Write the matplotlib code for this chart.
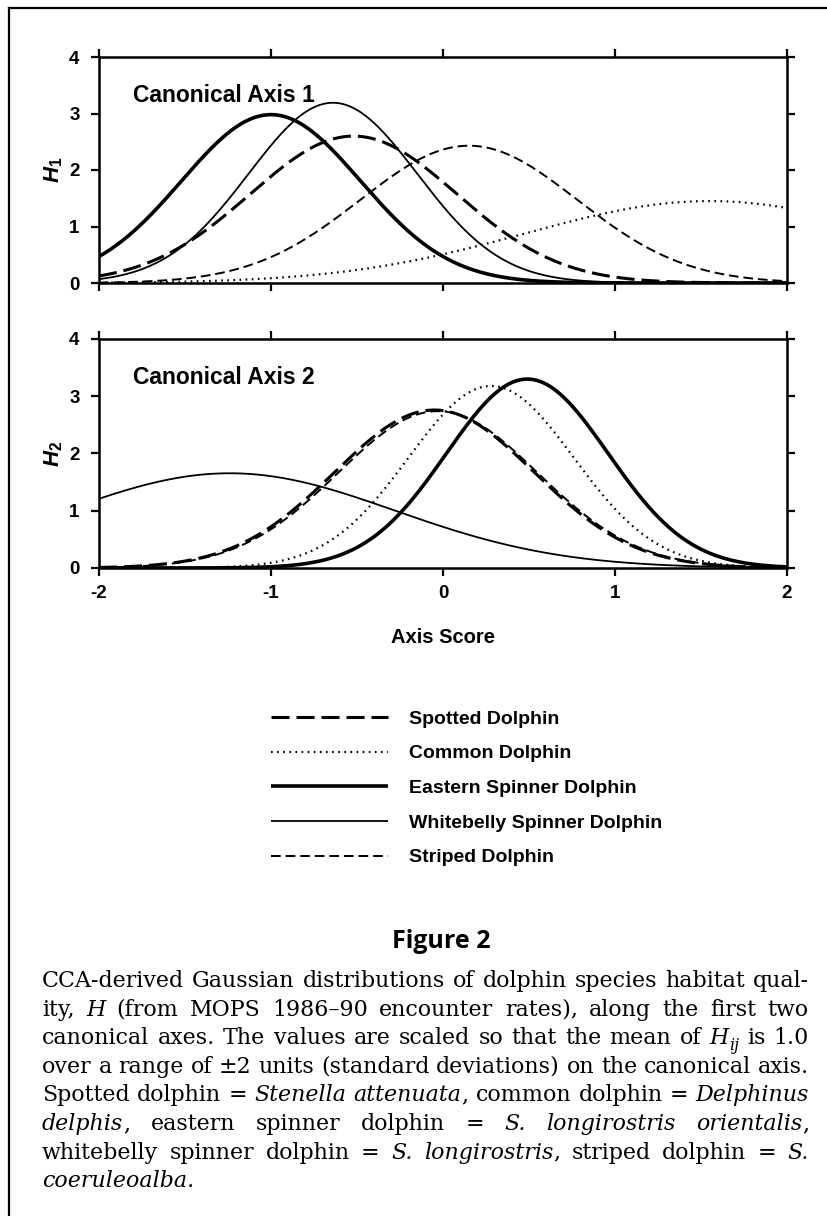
import re
import numpy as np
import matplotlib
matplotlib.use('Agg')
import matplotlib.pyplot as plt
from matplotlib.lines import Line2D

# ============================================================
# Data (Gaussian response parameters)
# ============================================================

species = ['Spotted Dolphin', 'Common Dolphin', 'Eastern Spinner Dolphin',
           'Whitebelly Spinner Dolphin', 'Striped Dolphin']

# Canonical axis 1: peak height, optimum (mean), tolerance (sd)
axis1_peak = [2.60, 1.45, 2.98, 3.19, 2.43]
axis1_mean = [-0.52, 1.55, -1.00, -0.64, 0.15]
axis1_sd = [0.60, 1.07, 0.52, 0.49, 0.63]

# Canonical axis 2
axis2_peak = [2.76, 3.18, 3.30, 1.655, 2.74]
axis2_mean = [-0.05, 0.28, 0.49, -1.24, -0.03]
axis2_sd = [0.58, 0.48, 0.47, 0.96, 0.58]

x_ticks = [-2, -1, 0, 1, 2]
y_ticks = [0, 1, 2, 3, 4]

caption_title = 'Figure 2'
# *...* = italic, _{..} = italic subscript
caption_lines = [
    'CCA-derived Gaussian distributions of dolphin species habitat qual-',
    'ity, *H* (from MOPS 1986\u201390 encounter rates), along the first two',
    'canonical axes. The values are scaled so that the mean of *H*_{ij} is 1.0',
    'over a range of \u00b12 units (standard deviations) on the canonical axis.',
    'Spotted dolphin = *Stenella attenuata*, common dolphin = *Delphinus*',
    '*delphis*, eastern spinner dolphin = *S. longirostris orientalis*,',
    'whitebelly spinner dolphin = *S. longirostris*, striped dolphin = *S.*',
    '*coeruleoalba.*',
]

# ============================================================
# Style
# ============================================================

STYLES = [
    {'lw': 2.2, 'dashes': (13, 5)},     # spotted: thick long dash
    {'lw': 1.6, 'dashes': (1.2, 3.2)},  # common: dotted
    {'lw': 2.6, 'dashes': None},        # eastern spinner: thick solid
    {'lw': 1.3, 'dashes': None},        # whitebelly: thin solid
    {'lw': 1.4, 'dashes': (7, 3.5)},    # striped: short dash
]

W, H = 828, 1216
SANS = 'Liberation Sans'

plt.rcParams.update({
    'font.family': SANS,
    'font.weight': 'bold',
    'axes.unicode_minus': False,
    'lines.scale_dashes': False,
    'mathtext.fontset': 'custom',
    'mathtext.rm': 'Liberation Sans:bold',
    'mathtext.it': 'Liberation Sans:italic:bold',
    'mathtext.bf': 'Liberation Sans:bold',
})


def gaussian_curve(xs, peak, mean, sd):
    return peak * np.exp(-(xs - mean) ** 2 / (2 * sd ** 2))


def style_axes(ax, show_xlabels):
    ax.set_xlim(-2, 2)
    ax.set_ylim(0, 4)
    ax.set_xticks(x_ticks)
    ax.set_yticks(y_ticks)
    for sp in ax.spines.values():
        sp.set_linewidth(1.8)
    ax.tick_params(direction='out', length=6, width=1.6, top=True, right=True,
                   labelsize=13.5, labelbottom=show_xlabels)
    ax.tick_params(axis='y', pad=8)
    ax.tick_params(axis='x', pad=6)


def draw_panel(ax, peaks, means, sds, title, ylabel):
    xs = np.linspace(-2, 2, 600)
    for i, name in enumerate(species):
        st = STYLES[i]
        line, = ax.plot(xs, gaussian_curve(xs, peaks[i], means[i], sds[i]),
                        color='black', lw=st['lw'], label=name,
                        solid_capstyle='butt', dash_capstyle='butt')
        if st['dashes']:
            line.set_dashes(st['dashes'])
    ax.text(0.049, 0.83, title, transform=ax.transAxes, fontsize=16.5,
            fontweight='bold', va='center', ha='left')
    ax.set_ylabel(ylabel, fontsize=16, labelpad=3)


def parse_caption(lines):
    italic = False
    parsed = []
    for line in lines:
        words = []
        for word in line.split(' '):
            parts = []
            for tok in re.split(r'(\*|_\{[^}]*\})', word):
                if tok == '*':
                    italic = not italic
                    continue
                if not tok:
                    continue
                if tok.startswith('_{'):
                    parts.append((tok[2:-1], 'sub'))
                else:
                    parts.append((tok, 'it' if italic else 'rm'))
            words.append(parts)
        parsed.append(words)
    return parsed


def make_words(fig, renderer, words, size):
    arts = []
    for parts in words:
        wa = []
        for txt, kind in parts:
            fs = size * 0.72 if kind == 'sub' else size
            t = fig.text(0, 0, txt, fontsize=fs, family='DejaVu Serif',
                         fontweight='normal',
                         style='normal' if kind == 'rm' else 'italic',
                         ha='left', va='baseline')
            wa.append((t, kind, t.get_window_extent(renderer).width))
        arts.append(wa)
    return arts


def draw_caption(fig, lines, x0, x1, y0, dy, size):
    renderer = fig.canvas.get_renderer()
    px = fig.dpi / 72.0
    parsed = parse_caption(lines)

    # shrink/grow the font so the widest line fits with normal spacing
    natural = []
    for words in parsed[:-1]:
        arts = make_words(fig, renderer, words, size)
        w = sum(sum(p[2] for p in wa) for wa in arts)
        w += (len(arts) - 1) * size * px * 0.30
        natural.append(w)
        for wa in arts:
            for t, _, _ in wa:
                t.remove()
    size = size * (x1 - x0) / max(natural)

    for k, words in enumerate(parsed):
        arts = make_words(fig, renderer, words, size)
        widths = [sum(p[2] for p in wa) for wa in arts]
        if k < len(parsed) - 1 and len(arts) > 1:
            gap = (x1 - x0 - sum(widths)) / (len(arts) - 1)
        else:
            gap = size * px * 0.30
        x = x0
        y = y0 + k * dy
        for wa in arts:
            for t, kind, w in wa:
                yy = y + (size * px * 0.28 if kind == 'sub' else 0)
                t.set_position((x / W, 1 - yy / H))
                x += w
            x += gap


fig = plt.figure(figsize=(W / 100, H / 100), dpi=100)

ax1 = fig.add_axes([99 / W, 1 - 283 / H, 688 / W, 226 / H])
ax2 = fig.add_axes([99 / W, 1 - 568 / H, 688 / W, 229 / H])

draw_panel(ax1, axis1_peak, axis1_mean, axis1_sd, 'Canonical Axis 1', r'$H_1$')
draw_panel(ax2, axis2_peak, axis2_mean, axis2_sd, 'Canonical Axis 2', r'$H_2$')
style_axes(ax1, False)
style_axes(ax2, True)
ax2.set_xlabel('Axis Score', fontsize=14.5, fontweight='bold', labelpad=19)

handles, labels = ax2.get_legend_handles_labels()
fig.legend(handles, labels, loc='upper left',
           bbox_to_anchor=(271 / W, 1 - 710 / H), frameon=False,
           prop={'family': SANS, 'weight': 'bold', 'size': 14},
           handlelength=6.0, handletextpad=1.1, labelspacing=0.88,
           borderpad=0, borderaxespad=0)

# frame around the figure block (left and top edges)
fig.add_artist(Line2D([9 / W, 9 / W], [0, 1 - 8 / H], color='black', lw=1.6))
fig.add_artist(Line2D([9 / W, 1], [1 - 8 / H, 1 - 8 / H], color='black', lw=1.6))

fig.text(441 / W, 1 - 941 / H, caption_title, ha='center', va='center',
         fontsize=18, family='Open Sans', fontweight='bold')

draw_caption(fig, caption_lines, 42, 809, 987, 28.6, 14)

fig.savefig('out.png', dpi=100)
